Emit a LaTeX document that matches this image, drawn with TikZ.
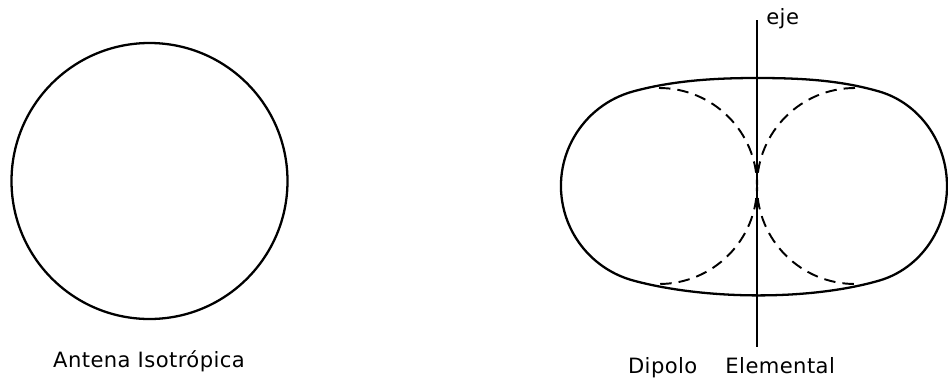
\documentclass[tikz,border=0pt]{standalone}
\usepackage{fontspec}
\usepackage{tikz}
\newfontfamily\rotulo[LetterSpace=2]{DejaVu Sans}

\begin{document}
\begin{tikzpicture}[x=2cm, y=2cm, every node/.style={font=\rotulo\fontsize{12}{14}\selectfont, inner sep=0pt}]

% Estilos de linea
\tikzset{contorno/.style={line width=1.3pt},
         lobulo/.style={line width=1.1pt, dash pattern=on 6.5pt off 4pt},
         ejeLinea/.style={line width=0.7pt}}

\useasboundingbox (0,0) rectangle (9.48,3.82);

% Antena isotropica
\coordinate (iso) at (1.495,2.01);
\draw[contorno] (iso) circle[radius=1.38];
\node[anchor=base] (isoTxt) at (1.49,0.15) {Antena Isotr\'opica};

% Dipolo elemental: puntos del contorno
\coordinate (arriba) at (7.57,3.04);
\coordinate (izqSup) at (6.336,2.907);
\coordinate (izqInf) at (6.336,1.013);
\coordinate (derInf) at (8.788,1.013);
\coordinate (derSup) at (8.788,2.907);

% Contorno exterior
\draw[contorno] (arriba) .. controls (7.12,3.04) and (6.722,3.011) .. (izqSup)
  arc[start angle=105, end angle=255, radius=0.98]
  .. controls (7.044,0.823) and (8.084,0.811) .. (derInf)
  arc[start angle=285, end angle=435, x radius=0.92, y radius=0.98]
  .. controls (8.404,3.017) and (8.02,3.04) .. cycle;

% Lobulos a trazos
\coordinate (topIzq) at (6.59,2.94);
\coordinate (topDer) at (8.55,2.94);
\draw[lobulo] (topIzq) arc[start angle=90, end angle=-90, radius=0.98];
\draw[lobulo] (topDer) arc[start angle=90, end angle=270, radius=0.98];

% Eje
\coordinate (ejeArriba) at (7.57,3.62);
\coordinate (ejeAbajo) at (7.57,0.35);
\draw[ejeLinea] (ejeArriba) -- (ejeAbajo);
\node[anchor=base west] (ejeTxt) at (7.66,3.58) {eje};

\node[anchor=base] (dipTxt) at (7.315,0.09) {Dipolo\hspace{16pt}Elemental};

\end{tikzpicture}
\end{document}
